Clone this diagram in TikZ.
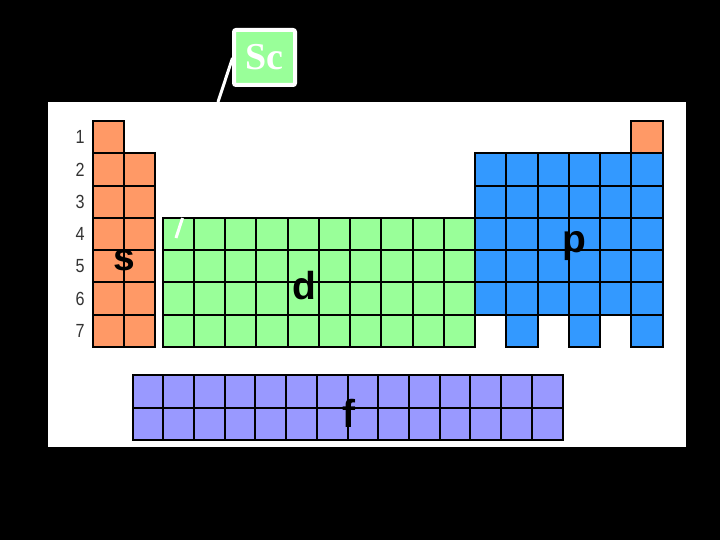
\documentclass[tikz,border=0pt]{standalone}
\usepackage{fontspec}
\setmainfont{Liberation Serif}
\newfontfamily\labfont{Liberation Sans}
\definecolor{sorange}{HTML}{FF9966}
\definecolor{dgreen}{HTML}{99FF99}
\definecolor{pblue}{HTML}{3399FF}
\definecolor{fpurple}{HTML}{9999FF}
\definecolor{numgray}{HTML}{333333}
\tikzset{
  cellbox/.style={draw=black, line width=2pt},
  blocklabel/.style={font=\labfont\bfseries\fontsize{39}{39}\selectfont, text=black, anchor=base, inner sep=0pt},
  rownum/.style={font=\labfont\fontsize{19}{19}\selectfont, text=numgray, xscale=0.85, inner sep=0pt},
}
\begin{document}
\begin{tikzpicture}[x=1pt,y=-1pt]
\useasboundingbox (0,0) rectangle (720,540);
\fill[black] (0,0) rectangle (720,540);
\fill[white] (48,102) rectangle (686,447);
% s block
\def\rh{32.2857}
\draw[cellbox, fill=sorange] (93,121) rectangle (124,121+\rh);
\foreach \r in {1,...,6} {
  \foreach \c in {0,1} {
    \draw[cellbox, fill=sorange] (93+31*\c,121+\r*\rh) rectangle (124+31*\c,121+\r*\rh+\rh);
  }
}
% d block
\foreach \r in {3,...,6} {
  \foreach \c in {0,...,9} {
    \draw[cellbox, fill=dgreen] (162.5+31.25*\c,121+\r*\rh) rectangle (193.75+31.25*\c,121+\r*\rh+\rh);
  }
}
% p block
\draw[cellbox, fill=sorange] (631.25,121) rectangle (662.5,121+\rh);
\foreach \r in {1,...,5} {
  \foreach \c in {0,...,5} {
    \draw[cellbox, fill=pblue] (475+31.25*\c,121+\r*\rh) rectangle (506.25+31.25*\c,121+\r*\rh+\rh);
  }
}
\foreach \c in {1,3,5} {
  \draw[cellbox, fill=pblue] (475+31.25*\c,121+6*\rh) rectangle (506.25+31.25*\c,347);
}
% f block
\foreach \r in {0,1} {
  \foreach \c in {0,...,13} {
    \draw[cellbox, fill=fpurple] (132.5+30.714*\c,375+32.5*\r) rectangle (163.214+30.714*\c,407.5+32.5*\r);
  }
}
% row numbers
\foreach \n in {1,...,7} {
  \node[rownum] (n\n) at (80,121+\n*\rh-0.5*\rh) {\n};
}
% block labels
\node[blocklabel] (ls) at (124,270) {s};
\node[blocklabel] (ld) at (304,299) {d};
\node[blocklabel] (lp) at (574,252) {p};
\node[blocklabel] (lf) at (349,427) {f};
% Sc callout
\node[draw=white, line width=4pt, fill=dgreen, rounded corners=2pt, minimum width=61pt, minimum height=55pt, inner sep=0pt, font=\bfseries\fontsize{38}{38}\selectfont, text=white] (sc) at (264.5,57.5) {Sc};
\coordinate (lineA) at (218,102);
\coordinate (lineB) at (232.5,58);
\draw[white, line width=3pt] (lineA) -- (lineB);
\coordinate (tickA) at (176,238);
\coordinate (tickB) at (182.5,218);
\draw[white, line width=3pt] (tickA) -- (tickB);
\end{tikzpicture}
\end{document}
